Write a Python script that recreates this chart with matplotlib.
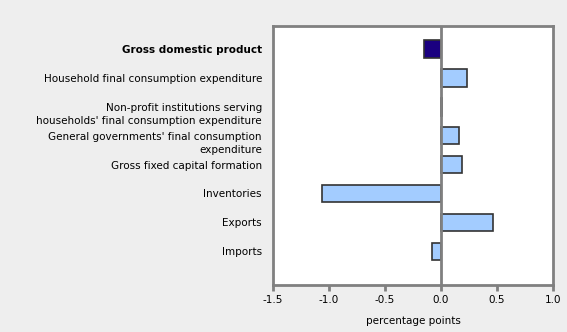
import matplotlib.pyplot as plt
import matplotlib.transforms as mtransforms
import numpy as np

categories = ['Gross domestic product',
              'Household final consumption expenditure',
              "Non-profit institutions serving\nhouseholds' final consumption expenditure",
              "General governments' final consumption\nexpenditure",
              'Gross fixed capital formation',
              'Inventories',
              'Exports',
              'Imports']
values = [-0.155, 0.23, 0.01, 0.165, 0.19, -1.065, 0.46, -0.08]
x_ticks = [-1.5, -1.0, -0.5, 0.0, 0.5, 1.0]
x_labels = ['-1.5', '-1.0', '-0.5', '0.0', '0.5', '1.0']

plt.rcParams['font.family'] = ['DejaVu Sans']

fig = plt.figure(figsize=(5.67, 3.32), dpi=100, facecolor='#eeeeee')
ax = fig.add_axes([0.4815, 0.1416, 0.4938, 0.7801])
ax.set_facecolor('white')

y = np.arange(len(categories))
colors = ['#1a0080'] + ['#a3ccff'] * (len(categories) - 1)
ax.barh(y, values, height=0.6, color=colors, edgecolor='#333333', linewidth=1.2, zorder=2)

ax.axvline(0, color='#808080', linewidth=2, zorder=3)

ax.set_xlim(-1.5, 1.0)
ax.set_ylim(len(categories) - 1 + 1.17, -0.8)

ax.set_yticks(y)
ax.set_yticklabels(categories, fontsize=7.5, color='black', linespacing=1.3)
ax.tick_params(axis='y', length=0, pad=8)
# two-line labels sit a little lower and are right aligned
shift = mtransforms.ScaledTranslation(0, -4 / 72, fig.dpi_scale_trans)
for lab in ax.get_yticklabels():
    lab.set_multialignment('right')
    if '\n' in lab.get_text():
        lab.set_transform(lab.get_transform() + shift)
ax.get_yticklabels()[0].set_fontweight('bold')

ax.set_xticks(x_ticks)
ax.set_xticklabels(x_labels, fontsize=7.5)
ax.tick_params(axis='x', direction='out', length=4, width=2, color='#808080', pad=3)
ax.set_xlabel('percentage points', fontsize=7.5, labelpad=8)

for s in ax.spines.values():
    s.set_color('#808080')
    s.set_linewidth(2)

fig.savefig('out.png', dpi=100, facecolor=fig.get_facecolor())
